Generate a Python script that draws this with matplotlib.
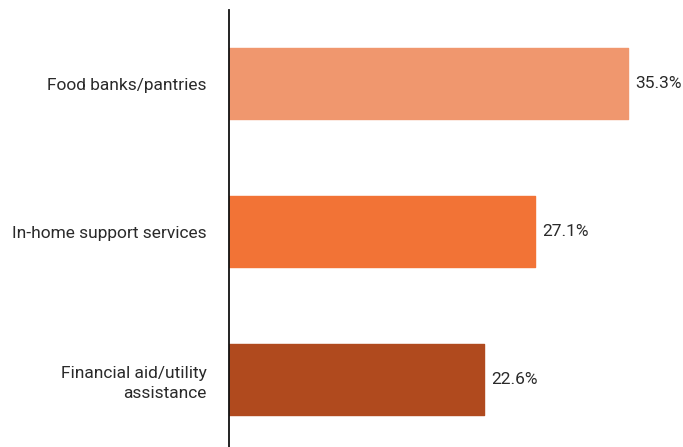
import matplotlib
matplotlib.use("Agg")
import matplotlib.pyplot as plt

categories = ["Food banks/pantries", "In-home support services", "Financial aid/utility\nassistance"]
values = [35.3, 27.1, 22.6]
colors = ["#F0976E", "#F27336", "#B04A1E"]

plt.rcParams['font.family'] = ['Roboto', 'DejaVu Sans']

fig = plt.figure(figsize=(6.83, 4.47), dpi=100)
ax = fig.add_axes([229/683, 0, 1 - 229/683, 437/447])

pos = list(range(len(categories)))
ax.barh(pos, values, height=0.48, color=colors, edgecolor=colors, linewidth=1, joinstyle='round')
ax.set_ylim(2.456, -0.5)
ax.set_xlim(0, 454/11.3)

for p, v in zip(pos, values):
    ax.text(v + 0.65, p, f"{v:.1f}%", va='center', ha='left', fontsize=12.5, color='#2a2a2a')

ax.set_yticks(pos)
ax.set_yticklabels(categories, fontsize=12.5, color='#2a2a2a', ha='right',
                   multialignment='right', linespacing=1.45)
ax.tick_params(axis='y', length=0, pad=16)
ax.set_xticks([])
for s in ['top', 'right', 'bottom']:
    ax.spines[s].set_visible(False)
ax.spines['left'].set_linewidth(1.3)
ax.spines['left'].set_color('#111111')

fig.savefig("out.png", dpi=100)
